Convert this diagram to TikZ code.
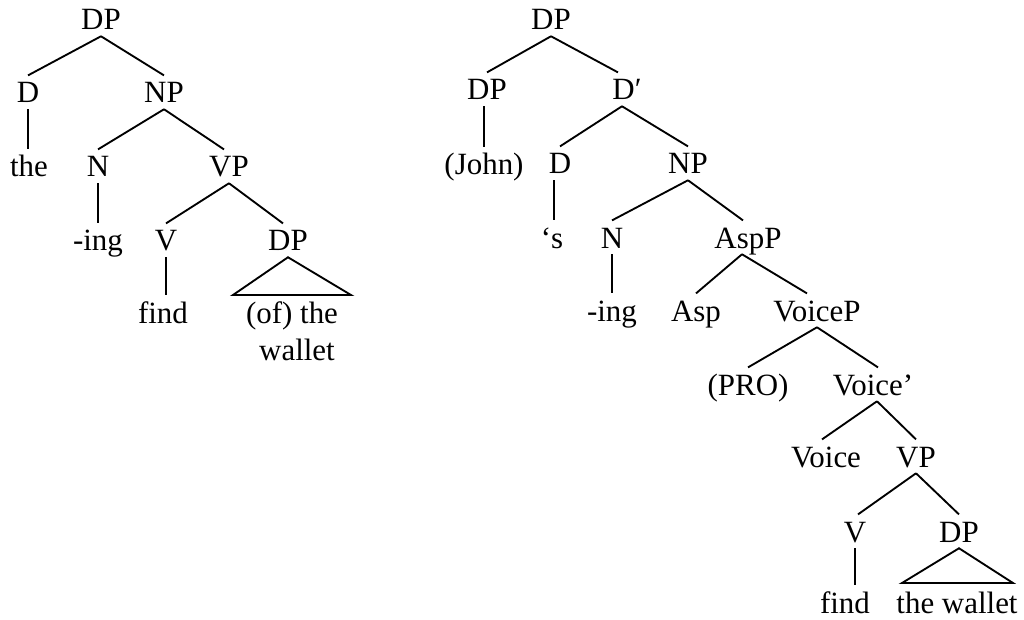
\documentclass[tikz,border=0pt]{standalone}
\usepackage{fontspec}
\setmainfont{Liberation Serif}
\begin{document}
\begin{tikzpicture}[x=0.75pt,y=-0.75pt,
  lab/.style={anchor=base, inner xsep=0pt, inner ysep=4.5pt,
    text height=16pt, text depth=0pt,
    font=\fontsize{23.2}{27}\selectfont},
  branch/.style={line width=1.4pt}]
\useasboundingbox (0,0) rectangle (1024,620);

% ---- the finding of the wallet ----
\node[lab] (a0)   at (101,30)  {DP};
\node[lab] (a1)   at (28,103)  {D};
\node[lab] (a2)   at (164,103) {NP};
\node[lab] (the)  at (29,177)  {the};
\node[lab] (an)   at (98,177)  {N};
\node[lab] (avp)  at (229,177) {VP};
\node[lab] (aing) at (98,251)  {-ing};
\node[lab] (av)   at (166,251) {V};
\node[lab] (adp)  at (288,251) {DP};
\node[lab] (afind) at (163,323) {find};
\node[lab] (aof)  at (292,323) {(of) the};
\node[lab] (awal) at (297,360) {wallet};
\coordinate (atl) at (233,295);
\coordinate (atr) at (351,295);

\draw[branch] (a0.south) -- (a1.north);
\draw[branch] (a0.south) -- (a2.north);
\draw[branch] (a1.south) -- (a1.south |- the.north);
\draw[branch] (a2.south) -- (an.north);
\draw[branch] (a2.south) -- ([xshift=-3.75pt]avp.north);
\draw[branch] (an.south) -- (aing.north);
\draw[branch] (avp.south) -- (av.north);
\draw[branch] (avp.south) -- ([xshift=-3.75pt]adp.north);
\draw[branch] (av.south) -- (av.south |- afind.north);
\draw[branch] (adp.south) -- (atl) -- (atr) -- cycle;

% ---- John's finding the wallet ----
\node[lab] (b0)    at (551,30)  {DP};
\node[lab] (bdp)   at (487,100) {DP};
\node[lab] (bbar)  at (627,100) {D′};
\node[lab] (john)  at (484,175) {(John)};
\node[lab] (bd)    at (560,174) {D};
\node[lab] (bnp)   at (688,174) {NP};
\node[lab] (bs)    at (552,248) {‘s};
\node[lab] (bn)    at (612,248) {N};
\node[lab] (asp)   at (748,248) {AspP};
\node[lab] (bing)  at (612,321) {-ing};
\node[lab] (asph)  at (696,321) {Asp};
\node[lab] (vcp)   at (817,321) {VoiceP};
\node[lab] (pro)   at (748,395) {(PRO)};
\node[lab] (vcbar) at (873,395) {Voice’};
\node[lab] (vc)    at (826,467) {Voice};
\node[lab] (bvp)   at (916,467) {VP};
\node[lab] (bv)    at (855,542) {V};
\node[lab] (bdp2)  at (959,542) {DP};
\node[lab] (bfind) at (845,613) {find};
\node[lab] (bwal)  at (957,613) {the wallet};
\coordinate (btl) at (902,583);
\coordinate (btr) at (1013,583);

\draw[branch] (b0.south) -- (bdp.north);
\draw[branch] (b0.south) -- ([xshift=-6.75pt]bbar.north);
\draw[branch] (bdp.south -| john.north) -- (john.north);
\draw[branch] ([xshift=-3.75pt]bbar.south) -- (bd.north);
\draw[branch] ([xshift=-3.75pt]bbar.south) -- (bnp.north);
\draw[branch] ([xshift=-4.5pt]bd.south) -- ([xshift=-4.5pt]bd.south |- bs.north);
\draw[branch] (bnp.south) -- (bn.north);
\draw[branch] (bnp.south) -- ([xshift=-3.75pt]asp.north);
\draw[branch] (bn.south) -- (bing.north);
\draw[branch] ([xshift=-4.5pt]asp.south) -- (asph.north);
\draw[branch] ([xshift=-4.5pt]asp.south) -- ([xshift=-7.5pt]vcp.north);
\draw[branch] (vcp.south) -- (pro.north);
\draw[branch] (vcp.south) -- ([xshift=3.75pt]vcbar.north);
\draw[branch] ([xshift=3pt]vcbar.south) -- ([xshift=-3pt]vc.north);
\draw[branch] ([xshift=3pt]vcbar.south) -- (bvp.north);
\draw[branch] (bvp.south) -- ([xshift=2.25pt]bv.north);
\draw[branch] (bvp.south) -- (bdp2.north);
\draw[branch] (bv.south) -- (bv.south |- bfind.north);
\draw[branch] (bdp2.south) -- (btl) -- (btr) -- cycle;
\end{tikzpicture}
\end{document}
